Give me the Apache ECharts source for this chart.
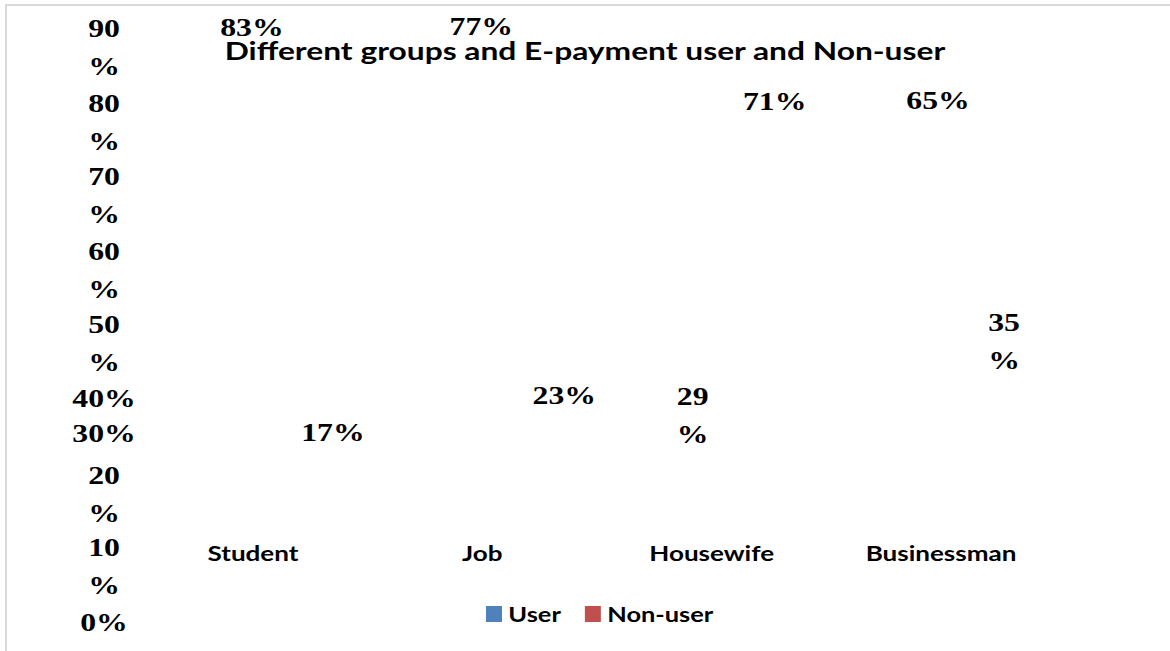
<!DOCTYPE html>
<html>
<head>
<meta charset="utf-8">
<script src="https://cdn.jsdelivr.net/npm/echarts@6/dist/echarts.min.js"></script>
<style>
  html, body { margin: 0; padding: 0; background: #fff; overflow: hidden; }
  #frame { position: absolute; left: 5px; top: 4px; width: 1170px; height: 660px;
           border-top: 2px solid #d9d9d9; border-left: 2px solid #d9d9d9; }
  #chart { position: absolute; left: 0; transform-origin: 0 0; }
</style>
</head>
<body>
<div id="frame"></div>
<div id="chart"></div>
<script>
// Survey shares of e-payment users and non-users by group (%)
const categories = ['Student', 'Job', 'Housewife', 'Businessman'];
const userValues = [83, 77, 71, 65];
const nonUserValues = [17, 23, 29, 35];
const yTickLabels = ['0%', '10\n%', '20\n%', '30%', '40%', '50\n%', '60\n%', '70\n%', '80\n%', '90\n%'];

// The chart is drawn narrow and stretched horizontally; its canvas starts a little above the page
const SX = 1.27;
const OFF = 24;
const PAGE_W = 1170, PAGE_H = 651;
const W = PAGE_W / SX, H = PAGE_H + OFF;
const ux = px => px / SX;
const uy = py => py + OFF;

const el = document.getElementById('chart');
el.style.width = W + 'px';
el.style.height = H + 'px';
el.style.top = (-OFF) + 'px';
el.style.transform = 'scaleX(' + SX + ')';

const serif = 'Liberation Serif, serif';
const sans = 'Lato, sans-serif';

// value axis: 0 at y=623, one unit = 575/90 px; an unlabelled step above 90 keeps the 90% label clear of the edge check
const Y0 = 623, UNIT = 575 / 90, AXIS_MAX = 100;

// vertical nudge of each y tick label below its tick (px)
const yLabelShift = { 0: 0, 10: 8, 20: -1, 30: 2, 40: 31, 50: 40, 60: 31, 70: 20, 80: 11, 90: 0 };

// label placement relative to the top of each (hidden) bar: [dx page px, dy px]
const userLabelShift = [[-1, -65], [-1, -104], [63, -68], [-3, -107]];
const nonUserLabelShift = [[80, -82], [82, -80], [-19, -22], [63, -58]];
const nonUserWrap = [false, false, true, true];

const rich = { t: { fontFamily: serif, fontWeight: 'bold', fontSize: 25, lineHeight: 38, color: '#000' } };
Object.keys(yLabelShift).forEach(v => {
  const d = Math.abs(yLabelShift[v]);
  if (d) rich['s' + v] = { fontSize: 1, lineHeight: 2 * d, height: 2 * d };
});

const labelBase = {
  show: true,
  opacity: 1,
  position: 'top',
  distance: 0,
  verticalAlign: 'middle',
  align: 'center',
  fontFamily: serif,
  fontWeight: 'bold',
  fontSize: 25,
  lineHeight: 38,
  color: '#000'
};

function buildData(values, shifts, wraps) {
  return values.map((v, i) => ({
    value: v,
    label: {
      offset: [ux(shifts[i][0]), shifts[i][1]],
      formatter: wraps && wraps[i] ? v + '\n%' : v + '%'
    }
  }));
}

const chart = echarts.init(el, null, { renderer: 'svg', width: W, height: H });

chart.setOption({
  backgroundColor: 'transparent',
  animation: false,
  title: {
    text: 'Different groups and E-payment user and Non-user',
    left: 'center',
    top: uy(33),
    textStyle: { fontFamily: sans, fontWeight: 'bold', fontSize: 25, color: '#000' }
  },
  legend: {
    left: ux(486),
    top: uy(604),
    padding: 0,
    icon: 'rect',
    itemWidth: ux(16),
    itemHeight: 16,
    itemGap: ux(24),
    itemStyle: { opacity: 1 },
    textStyle: { fontFamily: sans, fontWeight: 'bold', fontSize: 20, color: '#000' },
    data: [
      { name: 'User', itemStyle: { color: '#4F81BD', opacity: 1 } },
      { name: 'Non-user', itemStyle: { color: '#C0504D', opacity: 1 } }
    ]
  },
  grid: {
    left: ux(138.3),
    right: W - ux(1055.7),
    top: uy(Y0 - AXIS_MAX * UNIT),
    bottom: PAGE_H - Y0,
    containLabel: false
  },
  xAxis: {
    type: 'category',
    data: categories,
    axisLine: { show: false },
    axisTick: { show: false },
    axisLabel: {
      margin: -70,
      verticalAlign: 'middle',
      fontFamily: sans,
      fontWeight: 'bold',
      fontSize: 20.5,
      color: '#000'
    }
  },
  yAxis: {
    type: 'value',
    min: 0,
    max: AXIS_MAX,
    interval: 10,
    splitLine: { show: false },
    axisLine: { show: false },
    axisTick: { show: false },
    axisLabel: {
      align: 'center',
      margin: ux(138.3 - 104),
      rich: rich,
      formatter: v => {
        const text = yTickLabels[Math.round(v / 10)];
        if (text === undefined) return '';
        const lines = text.split('\n').map(t => '{t|' + t + '}');
        const d = yLabelShift[v];
        if (d > 0) lines.unshift('{s' + v + '| }');
        else if (d < 0) lines.push('{s' + v + '| }');
        return lines.join('\n');
      }
    }
  },
  series: [
    {
      name: 'User',
      type: 'bar',
      barGap: '-100%',
      itemStyle: { color: '#4F81BD', opacity: 0 },
      emphasis: { disabled: true },
      label: labelBase,
      data: buildData(userValues, userLabelShift, null)
    },
    {
      name: 'Non-user',
      type: 'bar',
      itemStyle: { color: '#C0504D', opacity: 0 },
      emphasis: { disabled: true },
      label: labelBase,
      data: buildData(nonUserValues, nonUserLabelShift, nonUserWrap)
    }
  ]
});
</script>
</body>
</html>
